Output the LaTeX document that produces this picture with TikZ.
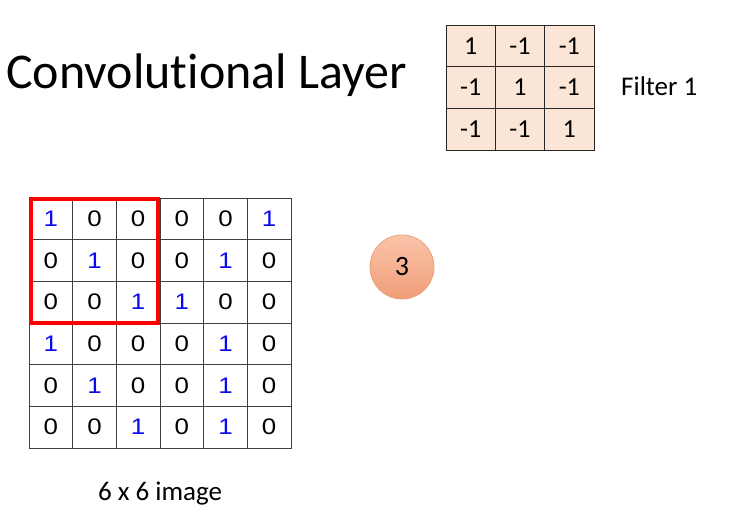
\documentclass[tikz,border=0pt]{standalone}
\usepackage{fontspec}
\setmainfont[Ligatures=NoCommon]{Carlito}
\newfontfamily\arialf{Liberation Sans}
\definecolor{peach}{RGB}{251,229,214}
\definecolor{digblue}{RGB}{10,10,240}
\definecolor{ctop}{RGB}{249,196,170}
\definecolor{cbot}{RGB}{241,158,120}
\definecolor{cedge}{RGB}{236,160,120}
\newcommand{\widedig}[1]{\scalebox{1.15}[1]{#1}}
\begin{document}
\begin{tikzpicture}[x=1pt,y=-1pt,
  fcell/.style={draw=black!85,fill=peach,minimum width=49.33pt,minimum height=41.67pt,inner sep=0pt,outer sep=0pt,line width=0.8pt,font=\fontsize{26}{28}\selectfont},
  gcell/.style={draw=black!75,minimum width=43.67pt,minimum height=41.67pt,inner sep=0pt,outer sep=0pt,line width=0.8pt,font=\arialf\fontsize{22.5}{24}\selectfont},
  one/.style={text=digblue},
  lbl/.style={inner sep=0pt,font=\fontsize{27}{30}\selectfont},
  redbox/.style={draw=red,line width=4pt}]
\useasboundingbox (0,0) rectangle (743,521);
% title
\node[inner sep=0pt,anchor=base west,font=\fontsize{50}{54}\selectfont] (title) at (6,89) {Convolutional Layer};
% filter
\foreach \v [count=\i from 0] in {1,-1,-1,-1,1,-1,-1,-1,1}{
  \pgfmathtruncatemacro{\r}{int(\i/3)+1}
  \pgfmathtruncatemacro{\c}{mod(\i,3)+1}
  \node[fcell] (f-\r-\c) at ({446+49.33*(\c-0.5)},{25+41.67*(\r-0.5)}) {\v};
}
\node[lbl,anchor=base west] (flabel) at (621,96) {Filter 1};
% image
\foreach \v [count=\i from 0] in {1,0,0,0,0,1, 0,1,0,0,1,0, 0,0,1,1,0,0, 1,0,0,0,1,0, 0,1,0,0,1,0, 0,0,1,0,1,0}{
  \pgfmathtruncatemacro{\r}{int(\i/6)+1}
  \pgfmathtruncatemacro{\c}{mod(\i,6)+1}
  \ifnum\v=1
    \node[gcell,one] (g-\r-\c) at ({29+43.67*(\c-0.5)},{198+41.67*(\r-0.5)}) {\widedig{\v}};
  \else
    \node[gcell] (g-\r-\c) at ({29+43.67*(\c-0.5)},{198+41.67*(\r-0.5)}) {\widedig{\v}};
  \fi
}
\draw[redbox] ([xshift=1.5pt,yshift=-1pt]g-1-1.north west) rectangle ([xshift=-2pt]g-3-3.south east);
\node[lbl,anchor=base] (ilabel) at (160,500) {6 x 6 image};
% output
\node[circle,minimum size=64pt,inner sep=0pt,top color=ctop,bottom color=cbot,draw=cedge,line width=0.8pt,font=\fontsize{28}{30}\selectfont] (out) at (402,267) {3};
\end{tikzpicture}
\end{document}
